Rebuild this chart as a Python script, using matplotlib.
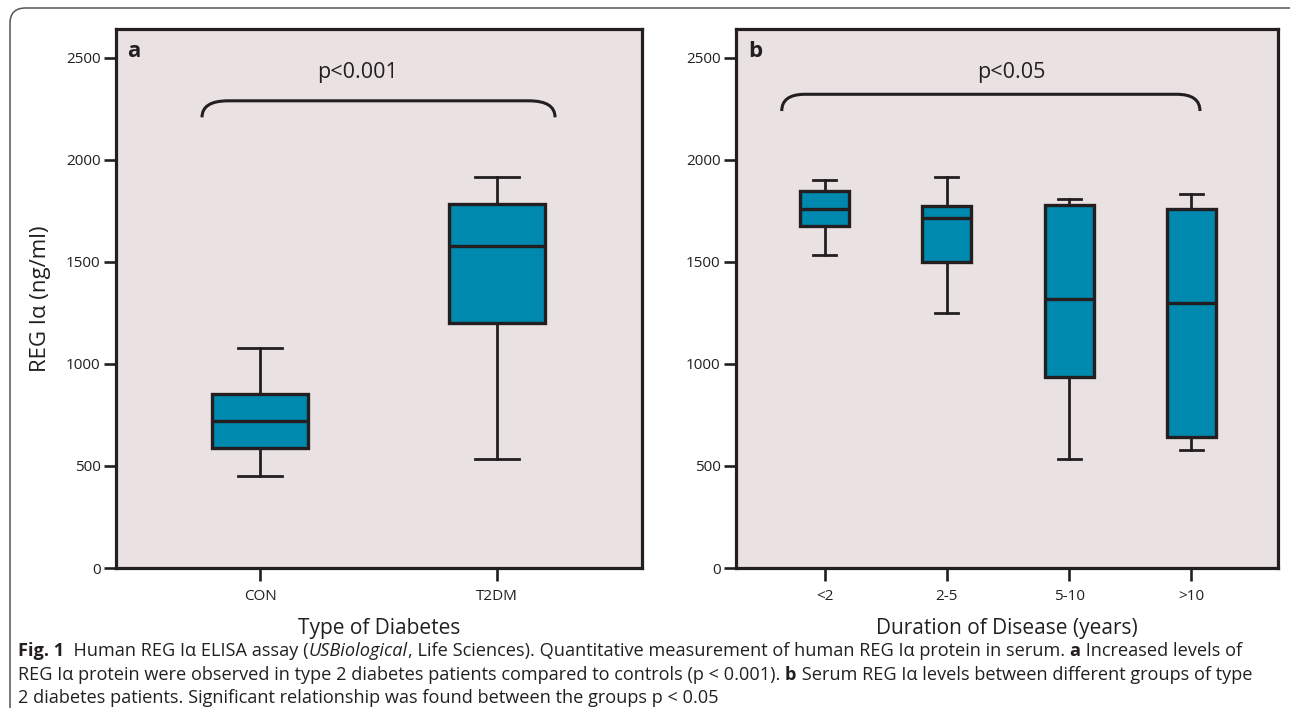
import matplotlib
matplotlib.use("Agg")
import matplotlib.pyplot as plt
from matplotlib.patches import FancyBboxPatch, PathPatch
from matplotlib.path import Path

# Panel a: type of diabetes
groups_a = ['CON', 'T2DM']
wlo_a = [451, 533]
q1_a = [589, 1199]
med_a = [722, 1579]
q3_a = [854, 1783]
whi_a = [1077, 1919]

# Panel b: duration of disease
groups_b = ['<2', '2-5', '5-10', '>10']
wlo_b = [1533, 1250, 535, 577]
q1_b = [1677, 1500, 935, 640]
med_b = [1758, 1715, 1321, 1299]
q3_b = [1846, 1774, 1780, 1758]
whi_b = [1902, 1919, 1809, 1831]

yticks = [0, 500, 1000, 1500, 2000, 2500]

BOX = '#0089ae'
BG = '#eae1e2'
INK = '#231f20'
FONT = 'Open Sans'

plt.rcParams['font.family'] = [FONT, 'DejaVu Sans']

W, H = 1290, 708
fig = plt.figure(figsize=(W / 100, H / 100), dpi=100)


def px_axes(l, r, t, b):
  return fig.add_axes([l / W, 1 - b / H, (r - l) / W, (b - t) / H])


def draw_panel(ax, labels, wlo, q1, med, q3, whi, xlim, width, capw):
  stats = []
  for i in range(len(labels)):
    stats.append(dict(whislo=wlo[i], q1=q1[i], med=med[i], q3=q3[i],
                      whishi=whi[i], label=labels[i]))
  ax.bxp(stats, positions=range(len(labels)), widths=width,
         showfliers=False, patch_artist=True, capwidths=capw,
         boxprops=dict(facecolor=BOX, edgecolor=INK, linewidth=2.4),
         medianprops=dict(color=INK, linewidth=2.4),
         whiskerprops=dict(color=INK, linewidth=2.0),
         capprops=dict(color=INK, linewidth=2.0))
  ax.set_facecolor(BG)
  ax.set_xlim(*xlim)
  ax.set_ylim(0, 2642)
  ax.set_yticks(yticks)
  for s in ax.spines.values():
    s.set_linewidth(2.3)
    s.set_color(INK)
  ax.tick_params(direction='out', length=9, width=1.9, color=INK,
                 labelsize=11, labelcolor=INK, pad=2)
  ax.tick_params(axis='x', pad=6)


def brace(ax, x0, x1, ylo, yhi, dx, text, tx):
  verts = [(x0, ylo), (x0, yhi), (x0 + dx, yhi), (x1 - dx, yhi),
           (x1, yhi), (x1, ylo)]
  codes = [Path.MOVETO, Path.CURVE3, Path.CURVE3, Path.LINETO,
           Path.CURVE3, Path.CURVE3]
  ax.add_patch(PathPatch(Path(verts, codes), fill=False, edgecolor=INK,
                         linewidth=2.2))
  ax.text(tx, 2430, text, ha='center', va='center', fontsize=15.5, color=INK)


ax_a = px_axes(116, 642, 29, 568)
draw_panel(ax_a, groups_a, wlo_a, q1_a, med_a, q3_a, whi_a,
           (-0.608, 1.612), 0.405, 0.186)
brace(ax_a, -0.245, 1.245, 2209, 2290, 0.11, 'p<0.001', 0.41)
ax_a.set_ylabel('REG Iα (ng/ml)', fontsize=16, color=INK, labelpad=11)
ax_a.set_xlabel('Type of Diabetes', fontsize=15, color=INK, labelpad=10)
ax_a.text(0.022, 0.977, 'a', transform=ax_a.transAxes, fontsize=16,
          fontweight='bold', va='top', ha='left', color=INK)

ax_b = px_axes(736, 1278, 29, 568)
draw_panel(ax_b, groups_b, wlo_b, q1_b, med_b, q3_b, whi_b,
           (-0.724, 3.708), 0.40, 0.19)
brace(ax_b, -0.35, 3.07, 2240, 2322, 0.19, 'p<0.05', 1.53)
ax_b.set_xlabel('Duration of Disease (years)', fontsize=15, color=INK,
                labelpad=10)
ax_b.text(0.022, 0.977, 'b', transform=ax_b.transAxes, fontsize=16,
          fontweight='bold', va='top', ha='left', color=INK)

# outer frame (only top/left edges visible)
fig.patches.append(FancyBboxPatch((10 / W, -20 / H), 1400 / W, 720 / H,
                                  boxstyle='round,pad=0,rounding_size=0.012',
                                  transform=fig.transFigure, fill=False,
                                  edgecolor='#555555', linewidth=1.1,
                                  mutation_aspect=W / H))

# caption with mixed styles
caption = [
  [('Fig. 1', 'bold', 'normal'),
   ('  Human REG Iα ELISA assay (', 'normal', 'normal'),
   ('USBiological', 'normal', 'italic'),
   (', Life Sciences). Quantitative measurement of human REG Iα protein in serum. ', 'normal', 'normal'),
   ('a', 'bold', 'normal'),
   (' Increased levels of', 'normal', 'normal')],
  [('REG Iα protein were observed in type 2 diabetes patients compared to controls (p < 0.001). ', 'normal', 'normal'),
   ('b', 'bold', 'normal'),
   (' Serum REG Iα levels between different groups of type', 'normal', 'normal')],
  [('2 diabetes patients. Significant relationship was found between the groups p < 0.05', 'normal', 'normal')],
]
line_y = [651, 675, 698]

renderer = fig.canvas.get_renderer()
for pieces, yy in zip(caption, line_y):
  x = 18
  for txt, wt, st in pieces:
    t = fig.text(x / W, 1 - yy / H, txt, fontsize=13.1, fontweight=wt,
                 fontstyle=st, color=INK, va='center', ha='left')
    bb = t.get_window_extent(renderer)
    x += bb.width

fig.savefig('out.png', dpi=100)
